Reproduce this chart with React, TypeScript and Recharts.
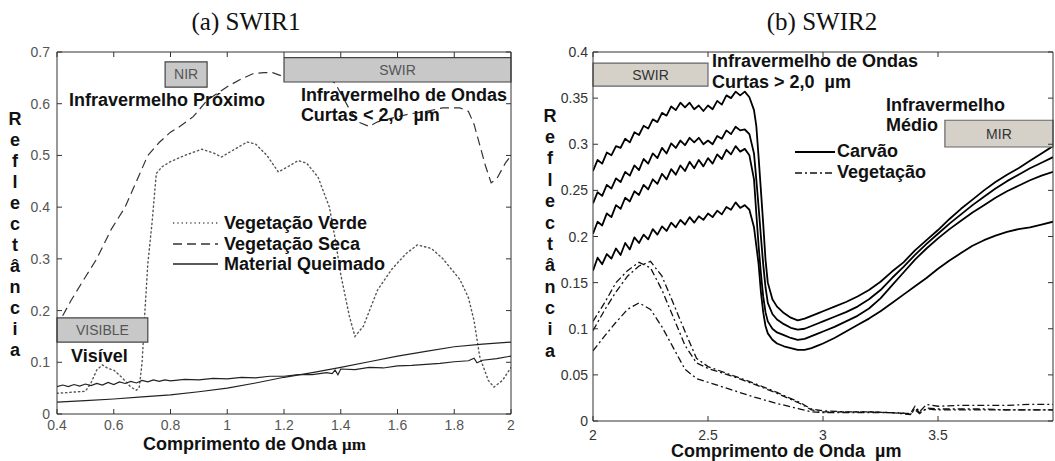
import React from 'react';
import { LineChart, Line, XAxis, YAxis, ReferenceArea, ReferenceDot, Legend } from 'recharts';

const SANS = '"Liberation Sans", Arial, Helvetica, sans-serif';
const SERIF = '"Liberation Serif", "Times New Roman", serif';

// ---------------- (a) SWIR1 ----------------
const swir1XTicks = [0.4, 0.6, 0.8, 1, 1.2, 1.4, 1.6, 1.8, 2];
const swir1YTicks = [0, 0.1, 0.2, 0.3, 0.4, 0.5, 0.6, 0.7];

const verdeWl = [0.40, 0.45, 0.50, 0.52, 0.54, 0.56, 0.58, 0.60, 0.63, 0.66, 0.68, 0.69, 0.70, 0.71, 0.72, 0.735, 0.75, 0.77, 0.80, 0.85, 0.91, 0.95, 0.98, 1.02, 1.07, 1.10, 1.14, 1.18, 1.21, 1.25, 1.28, 1.32, 1.36, 1.38, 1.40, 1.43, 1.45, 1.48, 1.53, 1.58, 1.63, 1.67, 1.72, 1.76, 1.82, 1.85, 1.87, 1.89, 1.92, 1.94, 1.97, 2.00];
const verdeR = [0.040, 0.042, 0.044, 0.060, 0.085, 0.095, 0.088, 0.085, 0.070, 0.052, 0.046, 0.052, 0.10, 0.20, 0.29, 0.37, 0.465, 0.478, 0.488, 0.500, 0.512, 0.505, 0.497, 0.510, 0.526, 0.522, 0.500, 0.468, 0.477, 0.490, 0.485, 0.458, 0.40, 0.34, 0.27, 0.19, 0.15, 0.17, 0.24, 0.28, 0.31, 0.327, 0.32, 0.30, 0.26, 0.225, 0.18, 0.11, 0.065, 0.052, 0.065, 0.09];

const secaWl = [0.42, 0.45, 0.50, 0.54, 0.59, 0.64, 0.68, 0.72, 0.76, 0.80, 0.83, 0.88, 0.93, 1.00, 1.05, 1.09, 1.13, 1.16, 1.20, 1.25, 1.30, 1.35, 1.38, 1.40, 1.43, 1.46, 1.50, 1.53, 1.58, 1.64, 1.70, 1.76, 1.82, 1.85, 1.87, 1.89, 1.91, 1.93, 1.95, 1.98, 2.00];
const secaR = [0.19, 0.22, 0.265, 0.30, 0.356, 0.40, 0.45, 0.50, 0.525, 0.545, 0.555, 0.575, 0.607, 0.633, 0.648, 0.658, 0.66, 0.66, 0.652, 0.655, 0.655, 0.65, 0.64, 0.62, 0.59, 0.565, 0.556, 0.565, 0.572, 0.58, 0.585, 0.592, 0.592, 0.585, 0.56, 0.52, 0.48, 0.447, 0.455, 0.485, 0.50];

const queimadoAWl = [0.40, 0.42, 0.44, 0.46, 0.48, 0.50, 0.52, 0.54, 0.56, 0.58, 0.60, 0.62, 0.64, 0.66, 0.68, 0.70, 0.72, 0.74, 0.76, 0.78, 0.80, 0.85, 0.90, 0.95, 1.00, 1.05, 1.10, 1.15, 1.20, 1.25, 1.30, 1.35, 1.37, 1.38, 1.39, 1.40, 1.45, 1.50, 1.55, 1.60, 1.65, 1.70, 1.75, 1.80, 1.85, 1.87, 1.88, 1.90, 1.95, 2.00];
const queimadoAR = [0.053, 0.056, 0.053, 0.057, 0.054, 0.058, 0.055, 0.059, 0.056, 0.061, 0.057, 0.062, 0.059, 0.063, 0.060, 0.065, 0.062, 0.066, 0.063, 0.066, 0.064, 0.067, 0.066, 0.069, 0.068, 0.071, 0.070, 0.073, 0.073, 0.076, 0.076, 0.080, 0.078, 0.085, 0.076, 0.087, 0.086, 0.090, 0.089, 0.093, 0.094, 0.096, 0.098, 0.101, 0.103, 0.108, 0.099, 0.104, 0.107, 0.112];

const queimadoBWl = [0.4, 0.5, 0.6, 0.7, 0.8, 0.9, 1.0, 1.1, 1.2, 1.3, 1.4, 1.5, 1.6, 1.7, 1.8, 1.9, 2.0];
const queimadoBR = [0.023, 0.026, 0.029, 0.033, 0.037, 0.043, 0.050, 0.060, 0.071, 0.080, 0.090, 0.101, 0.112, 0.121, 0.130, 0.135, 0.139];

// ---------------- (b) SWIR2 ----------------
const swir2XTicks = [2, 2.5, 3, 3.5];
const swir2YTicks = [0, 0.05, 0.1, 0.15, 0.2, 0.25, 0.3, 0.35, 0.4];

const carvaoWl = [
  2.00, 2.02, 2.04, 2.06, 2.08, 2.10, 2.12, 2.14, 2.16, 2.18, 2.20, 2.22, 2.24, 2.26, 2.28, 2.30, 2.32, 2.34, 2.36, 2.38,
  2.40, 2.42, 2.44, 2.46, 2.48, 2.50, 2.52, 2.54, 2.56, 2.58, 2.60, 2.62, 2.64, 2.66, 2.68, 2.70,
  2.71, 2.72, 2.73, 2.74, 2.75, 2.76, 2.78, 2.80, 2.83, 2.86, 2.89, 2.92, 2.95, 2.98, 3.00, 3.05, 3.10, 3.15, 3.20, 3.25,
  3.30, 3.35, 3.40, 3.45, 3.50, 3.55, 3.60, 3.65, 3.70, 3.75, 3.80, 3.85, 3.90, 3.95, 4.00,
];
const carvao1 = [
  0.271, 0.283, 0.279, 0.291, 0.288, 0.298, 0.296, 0.306, 0.302, 0.313, 0.310, 0.320, 0.317, 0.327, 0.324, 0.334, 0.331, 0.341, 0.337, 0.345,
  0.340, 0.345, 0.338, 0.342, 0.336, 0.342, 0.338, 0.347, 0.343, 0.353, 0.350, 0.357, 0.353, 0.357, 0.351, 0.337,
  0.320, 0.286, 0.250, 0.214, 0.175, 0.150, 0.132, 0.124, 0.117, 0.112, 0.109, 0.111, 0.114, 0.117, 0.119, 0.124, 0.129, 0.135, 0.142, 0.151,
  0.162, 0.172, 0.185, 0.196, 0.207, 0.219, 0.230, 0.240, 0.250, 0.259, 0.267, 0.274, 0.282, 0.290, 0.298,
];
const carvao2 = [
  0.236, 0.248, 0.244, 0.256, 0.252, 0.263, 0.259, 0.270, 0.266, 0.277, 0.272, 0.284, 0.279, 0.290, 0.285, 0.296, 0.290, 0.301, 0.296, 0.304,
  0.299, 0.307, 0.302, 0.307, 0.300, 0.304, 0.300, 0.309, 0.306, 0.315, 0.311, 0.319, 0.315, 0.316, 0.311, 0.290,
  0.262, 0.232, 0.200, 0.170, 0.145, 0.128, 0.116, 0.110, 0.105, 0.101, 0.099, 0.100, 0.103, 0.106, 0.108, 0.113, 0.118, 0.124, 0.132, 0.142,
  0.155, 0.167, 0.180, 0.192, 0.203, 0.214, 0.224, 0.234, 0.243, 0.252, 0.260, 0.267, 0.274, 0.280, 0.286,
];
const carvao3 = [
  0.203, 0.216, 0.212, 0.225, 0.221, 0.234, 0.230, 0.242, 0.238, 0.249, 0.245, 0.256, 0.251, 0.262, 0.257, 0.268, 0.262, 0.273, 0.267, 0.277,
  0.271, 0.281, 0.274, 0.283, 0.276, 0.285, 0.279, 0.289, 0.284, 0.294, 0.289, 0.298, 0.292, 0.295, 0.288, 0.262,
  0.225, 0.190, 0.160, 0.135, 0.118, 0.108, 0.100, 0.096, 0.093, 0.090, 0.088, 0.089, 0.092, 0.095, 0.097, 0.102, 0.108, 0.114, 0.122, 0.133,
  0.147, 0.161, 0.175, 0.187, 0.198, 0.208, 0.217, 0.226, 0.234, 0.242, 0.249, 0.255, 0.261, 0.266, 0.270,
];
const carvao4 = [
  0.163, 0.177, 0.170, 0.181, 0.176, 0.187, 0.180, 0.193, 0.186, 0.199, 0.193, 0.202, 0.197, 0.208, 0.202, 0.211, 0.206, 0.215, 0.210, 0.218,
  0.213, 0.221, 0.215, 0.222, 0.218, 0.225, 0.221, 0.228, 0.224, 0.232, 0.229, 0.237, 0.231, 0.234, 0.229, 0.210,
  0.190, 0.170, 0.140, 0.118, 0.103, 0.095, 0.088, 0.084, 0.081, 0.079, 0.077, 0.077, 0.079, 0.082, 0.084, 0.090, 0.097, 0.104, 0.111, 0.119,
  0.128, 0.137, 0.146, 0.155, 0.165, 0.174, 0.182, 0.190, 0.196, 0.201, 0.205, 0.208, 0.210, 0.213, 0.216,
];

const vegWl = [2.00, 2.05, 2.10, 2.15, 2.20, 2.25, 2.30, 2.35, 2.40, 2.45, 2.50, 2.60, 2.70, 2.80, 2.90, 2.95, 3.00, 3.10, 3.20, 3.30, 3.38, 3.40, 3.42, 3.45, 3.50, 3.60, 3.70, 3.80, 3.90, 4.00];
const vegA = [0.108, 0.128, 0.150, 0.163, 0.172, 0.166, 0.142, 0.112, 0.082, 0.063, 0.057, 0.049, 0.040, 0.030, 0.019, 0.012, 0.010, 0.010, 0.010, 0.009, 0.008, 0.016, 0.010, 0.018, 0.016, 0.017, 0.017, 0.017, 0.018, 0.018];
const vegB = [0.098, 0.120, 0.140, 0.157, 0.168, 0.173, 0.157, 0.127, 0.097, 0.068, 0.059, 0.050, 0.041, 0.031, 0.020, 0.013, 0.011, 0.010, 0.010, 0.009, 0.007, 0.014, 0.009, 0.013, 0.012, 0.012, 0.012, 0.012, 0.012, 0.012];
const vegC = [0.076, 0.092, 0.107, 0.121, 0.128, 0.121, 0.102, 0.079, 0.056, 0.046, 0.042, 0.034, 0.026, 0.019, 0.013, 0.010, 0.009, 0.009, 0.009, 0.009, 0.008, 0.012, 0.008, 0.014, 0.013, 0.013, 0.013, 0.012, 0.012, 0.012];

const zip = (xs: number[], ys: number[]) => xs.map((x, i) => ({ x, y: ys[i] }));

// line styles per series name (used by the lines and the legend samples), in legend order
const STYLE: Record<string, { dash?: string; color: string; width: number }> = {
  'Vegetação Verde': { dash: '1.3 3', color: '#555', width: 1.4 },
  'Vegetação Seca': { dash: '9 5', color: '#333', width: 1.2 },
  'Material Queimado': { color: '#222', width: 1.2 },
  'Carvão': { color: '#000', width: 1.8 },
  'Vegetação': { dash: '7 3 2 3', color: '#111', width: 1.3 },
};
const LEGEND_ORDER = Object.keys(STYLE);

const FRAME = '#333';
const TICK_LEN = 5;

// MATLAB-style inward tick marks, drawn together with their labels
const bottomTick = (fill: string, margin: number) => (p: any) => (
  <g>
    <path d={`M${p.x},${p.y - margin}v${-TICK_LEN}`} stroke={FRAME} strokeWidth={1} fill="none" />
    <text x={p.x} y={p.y} dy="0.71em" textAnchor="middle" fill={fill} fontSize={14} fontFamily={SANS}>
      {String(p.payload.value)}
    </text>
  </g>
);
const leftTick = (fill: string, margin: number) => (p: any) => (
  <g>
    <path d={`M${p.x + margin},${p.y}h${TICK_LEN}`} stroke={FRAME} strokeWidth={1} fill="none" />
    <text x={p.x} y={p.y} dy="0.36em" textAnchor="end" fill={fill} fontSize={14} fontFamily={SANS}>
      {String(p.payload.value)}
    </text>
  </g>
);
const topTick = (p: any) => <path d={`M${p.x},${p.y}v${TICK_LEN}`} stroke={FRAME} strokeWidth={1} fill="none" />;
const rightTick = (p: any) => <path d={`M${p.x},${p.y}h${-TICK_LEN}`} stroke={FRAME} strokeWidth={1} fill="none" />;

const noteLabel = (lines: string[], gap = 20) => ({
  content: (p: any) => {
    const vb = p.viewBox || p;
    return (
      <text x={vb.x} y={vb.y} fontFamily={SANS} fontWeight="bold" fontSize={18} fill="#111">
        {lines.map((t, i) => (
          <tspan key={i} x={vb.x} dy={i === 0 ? 0 : gap}>{t}</tspan>
        ))}
      </text>
    );
  },
});

const boxLabel = (value: string, fill: string) => ({
  value,
  position: 'center' as const,
  fill,
  fontSize: 14,
  fontFamily: SANS,
});

const stackedTitle = (word: string, dx: number, dy: number, gap: number) => ({
  content: (p: any) => {
    const vb = p.viewBox || p;
    return (
      <text x={vb.x + dx} y={vb.y + dy} textAnchor="middle" fontFamily={SANS} fontWeight="bold" fontSize={18} fill="#111">
        {Array.from(word).map((c, i) => (
          <tspan key={i} x={vb.x + dx} dy={i === 0 ? 0 : gap}>{c}</tspan>
        ))}
      </text>
    );
  },
});

const xTitle = (main: string, unit: string, unitFont: string, dx: number, dy: number) => ({
  content: (p: any) => {
    const vb = p.viewBox || p;
    return (
      <text x={vb.x + dx} y={vb.y + dy} fontFamily={SANS} fontWeight="bold" fontSize={18} fill="#111">
        {main}
        <tspan fontFamily={unitFont} fontSize={unitFont === SERIF ? 17 : 18}>{unit}</tspan>
      </text>
    );
  },
});

const legendContent = (sample: number, gap: number, rowH: number) => (props: any) => {
  const items = ((props.payload || []) as any[])
    .filter((it) => it && it.type !== 'none' && STYLE[it.value])
    .sort((a, b) => LEGEND_ORDER.indexOf(a.value) - LEGEND_ORDER.indexOf(b.value));
  return (
    <div style={{ fontFamily: SANS, fontWeight: 'bold', fontSize: 18, color: '#111' }}>
      {items.map((it) => {
        const s = STYLE[it.value];
        return (
          <div key={it.value} style={{ display: 'flex', alignItems: 'center', height: rowH, lineHeight: `${rowH}px`, whiteSpace: 'nowrap' }}>
            <svg width={sample} height={10} style={{ marginRight: gap, display: 'block' }}>
              <line x1={0} y1={5} x2={sample} y2={5} stroke={s.color} strokeWidth={s.width + 0.3} strokeDasharray={s.dash} />
            </svg>
            <span>{it.value}</span>
          </div>
        );
      })}
    </div>
  );
};

function Swir1() {
  const ax = { xAxisId: 'b', yAxisId: 'l' };
  return (
    <LineChart width={530} height={461} margin={{ top: 51, right: 18, bottom: 17, left: 0 }}>
      <XAxis xAxisId="b" dataKey="x" type="number" domain={[0.4, 2]} ticks={swir1XTicks} interval={0}
        allowDataOverflow height={30} tickSize={0} tickMargin={6} tickLine={false} stroke={FRAME} tick={bottomTick('#555', 6)}
        label={xTitle('Comprimento de Onda ', 'μm', SERIF, 86, 36)} />
      <XAxis xAxisId="t" orientation="top" dataKey="x" type="number" domain={[0.4, 2]} ticks={swir1XTicks} interval={0}
        allowDataOverflow height={1} tickSize={0} tickMargin={0} tickLine={false} stroke={FRAME} tick={topTick} />
      <YAxis yAxisId="l" type="number" domain={[0, 0.7]} ticks={swir1YTicks} interval={0} allowDataOverflow
        width={57} tickSize={0} tickMargin={7} tickLine={false} stroke={FRAME} tick={leftTick('#555', 7)}
        label={stackedTitle('Reflectância', 15, 72.5, 21)} />
      <YAxis yAxisId="r" orientation="right" type="number" domain={[0, 0.7]} ticks={swir1YTicks} interval={0}
        allowDataOverflow width={1} tickSize={0} tickMargin={0} tickLine={false} stroke={FRAME} tick={rightTick} />

      <Line {...ax} data={zip(verdeWl, verdeR)} dataKey="y" name="Vegetação Verde" dot={false} isAnimationActive={false}
        stroke={STYLE['Vegetação Verde'].color} strokeWidth={STYLE['Vegetação Verde'].width} strokeDasharray={STYLE['Vegetação Verde'].dash} strokeLinecap="round" />
      <Line {...ax} data={zip(secaWl, secaR)} dataKey="y" name="Vegetação Seca" dot={false} isAnimationActive={false}
        stroke={STYLE['Vegetação Seca'].color} strokeWidth={STYLE['Vegetação Seca'].width} strokeDasharray={STYLE['Vegetação Seca'].dash} />
      <Line {...ax} data={zip(queimadoAWl, queimadoAR)} dataKey="y" name="Material Queimado" dot={false} isAnimationActive={false}
        stroke={STYLE['Material Queimado'].color} strokeWidth={STYLE['Material Queimado'].width} />
      <Line {...ax} data={zip(queimadoBWl, queimadoBR)} dataKey="y" name="Material Queimado (2)" legendType="none" dot={false} isAnimationActive={false}
        stroke={STYLE['Material Queimado'].color} strokeWidth={STYLE['Material Queimado'].width} />

      <ReferenceArea {...ax} x1={0.781} x2={0.929} y1={0.632} y2={0.681} fill="#c8c8c8" fillOpacity={1} stroke="#444" strokeWidth={1.2}
        zIndex={450} label={boxLabel('NIR', '#555')} />
      <ReferenceArea {...ax} x1={1.2} x2={2.0} y1={0.642} y2={0.689} fill="#c8c8c8" fillOpacity={1} stroke="#444" strokeWidth={1.2}
        zIndex={450} label={boxLabel('SWIR', '#555')} />
      <ReferenceArea {...ax} x1={0.4} x2={0.72} y1={0.139} y2={0.186} fill="#c8c8c8" fillOpacity={1} stroke="#444" strokeWidth={1.2}
        zIndex={450} label={boxLabel('VISIBLE', '#555')} />

      <ReferenceDot {...ax} x={0.446} y={0.594} r={1} fill="none" stroke="none" label={noteLabel(['Infravermelho Próximo'])} />
      <ReferenceDot {...ax} x={1.263} y={0.603} r={1} fill="none" stroke="none"
        label={noteLabel(['Infravermelho de Ondas', 'Curtas < 2,0\u00a0 µm'])} />
      <ReferenceDot {...ax} x={0.453} y={0.099} r={1} fill="none" stroke="none" label={noteLabel(['Visível'])} />

      <Legend layout="vertical" align="center" verticalAlign="middle" content={legendContent(45, 6, 20.5)}
        wrapperStyle={{ left: 173, top: 213, width: 'auto', height: 'auto' }} />
    </LineChart>
  );
}

function Swir2() {
  const ax = { xAxisId: 'b', yAxisId: 'l' };
  const carvao = [carvao1, carvao2, carvao3, carvao4];
  const veg = [vegA, vegB, vegC];
  return (
    <LineChart width={525} height={461} margin={{ top: 51, right: 1, bottom: 4, left: 0 }}>
      <XAxis xAxisId="b" dataKey="x" type="number" domain={[2, 4]} ticks={swir2XTicks} interval={0}
        allowDataOverflow height={36} tickSize={0} tickMargin={9} tickLine={false} stroke={FRAME} tick={bottomTick('#333', 9)}
        label={xTitle('Comprimento de Onda\u00a0 ', 'µm', SANS, 78, 36)} />
      <XAxis xAxisId="t" orientation="top" dataKey="x" type="number" domain={[2, 4]} ticks={swir2XTicks} interval={0}
        allowDataOverflow height={1} tickSize={0} tickMargin={0} tickLine={false} stroke={FRAME} tick={topTick} />
      <YAxis yAxisId="l" type="number" domain={[0, 0.4]} ticks={swir2YTicks} interval={0} allowDataOverflow
        width={63} tickSize={0} tickMargin={5} tickLine={false} stroke={FRAME} tick={leftTick('#333', 5)}
        label={stackedTitle('Reflectância', 20, 69.5, 21.4)} />
      <YAxis yAxisId="r" orientation="right" type="number" domain={[0, 0.4]} ticks={swir2YTicks} interval={0}
        allowDataOverflow width={1} tickSize={0} tickMargin={0} tickLine={false} stroke={FRAME} tick={rightTick} />

      {carvao.map((vals, i) => (
        <Line key={`c${i}`} {...ax} data={zip(carvaoWl, vals)} dataKey="y" name={i === 0 ? 'Carvão' : `Carvão (${i + 1})`}
          legendType={i === 0 ? 'line' : 'none'} dot={false} isAnimationActive={false}
          stroke={STYLE['Carvão'].color} strokeWidth={STYLE['Carvão'].width} strokeLinejoin="round" />
      ))}
      {veg.map((vals, i) => (
        <Line key={`v${i}`} {...ax} data={zip(vegWl, vals)} dataKey="y" name={i === 0 ? 'Vegetação' : `Vegetação (${i + 1})`}
          legendType={i === 0 ? 'line' : 'none'} dot={false} isAnimationActive={false}
          stroke={STYLE['Vegetação'].color} strokeWidth={STYLE['Vegetação'].width} strokeDasharray={STYLE['Vegetação'].dash} />
      ))}

      <ReferenceArea {...ax} x1={2.0} x2={2.5} y1={0.363} y2={0.388} fill="#d5d1c9" fillOpacity={1} stroke="#666" strokeWidth={1.2}
        zIndex={450} label={boxLabel('SWIR', '#333')} />
      <ReferenceArea {...ax} x1={3.53} x2={4.0} y1={0.297} y2={0.326} fill="#d5d1c9" fillOpacity={1} stroke="#666" strokeWidth={1.2}
        zIndex={450} label={boxLabel('MIR', '#333')} />

      <ReferenceDot {...ax} x={2.522} y={0.3827} r={1} fill="none" stroke="none"
        label={noteLabel(['Infravermelho de Ondas', 'Curtas > 2,0\u00a0 µm'], 21)} />
      <ReferenceDot {...ax} x={3.278} y={0.335} r={1} fill="none" stroke="none" label={noteLabel(['Infravermelho', 'Médio'], 20)} />

      <Legend layout="vertical" align="center" verticalAlign="middle" content={legendContent(40, 2, 21)}
        wrapperStyle={{ left: 265, top: 141, width: 'auto', height: 'auto' }} />
    </LineChart>
  );
}

const titleStyle: React.CSSProperties = {
  position: 'absolute',
  top: 7,
  fontFamily: SERIF,
  fontSize: 25,
  lineHeight: '30px',
  color: '#111',
  whiteSpace: 'nowrap',
  transform: 'translateX(-50%)',
};

export default function App() {
  return (
    <div style={{ position: 'absolute', left: 0, top: 0, width: 1055, height: 461, background: '#fff', overflow: 'hidden' }}>
      <div style={{ position: 'absolute', left: 0, top: 0 }}>
        <Swir1 />
      </div>
      <div style={{ position: 'absolute', left: 530, top: 0 }}>
        <Swir2 />
      </div>
      <div style={{ ...titleStyle, left: 246 }}>(a) SWIR1</div>
      <div style={{ ...titleStyle, left: 822 }}>(b) SWIR2</div>
    </div>
  );
}
